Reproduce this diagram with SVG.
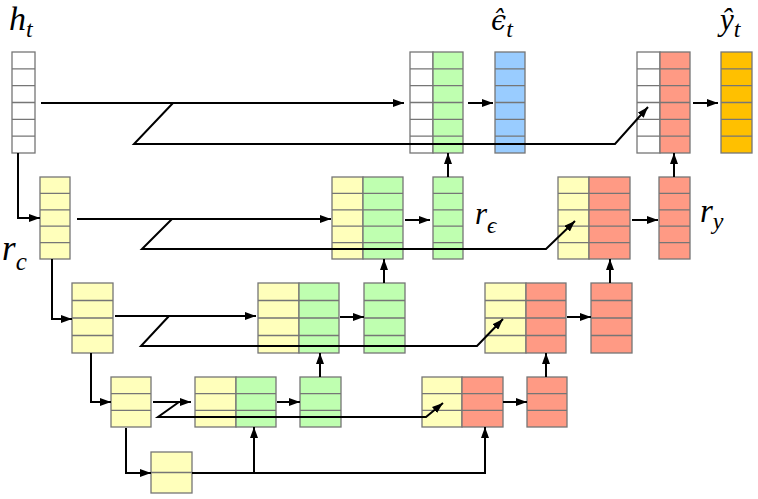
<svg xmlns="http://www.w3.org/2000/svg" width="758" height="499" viewBox="0 0 758 499">
<style>
.c{stroke:#767676;stroke-width:1.3}
.l{stroke:#767676;stroke-width:1.3;fill:none}
.w{fill:#ffffff}
.y{fill:#ffffbb}
.g{fill:#bfffb0}
.b{fill:#99ccff}
.r{fill:#ff9a84}
.o{fill:#ffc000}
.k{stroke:#000;stroke-width:2;fill:none;marker-end:url(#a)}
.m{font-family:"Liberation Serif","DejaVu Serif",serif;font-style:italic;fill:#000}
.d{font-family:"DejaVu Serif",serif;font-style:italic;fill:#000}
</style>
<defs>
<marker id="a" markerUnits="userSpaceOnUse" markerWidth="12" markerHeight="8" refX="11" refY="4" orient="auto">
<path d="M0,0 L11,4 L0,8 z" fill="#000"/>
</marker>
</defs>

<g id="labels">
<text class="m" x="9" y="30" font-size="34">h<tspan font-size="24" dy="7">t</tspan></text>
<text class="d" x="491" y="30" font-size="27">ϵ̂<tspan class="m" font-size="24" dy="7">t</tspan></text>
<text class="m" x="720" y="30" font-size="31">ŷ<tspan font-size="24" dy="7">t</tspan></text>
<text class="m" x="2" y="260" font-size="35">r<tspan font-size="25" dy="10">c</tspan></text>
<text class="m" x="475" y="224" font-size="31">r<tspan font-size="23" dy="9">ϵ</tspan></text>
<text class="m" x="700" y="222" font-size="33">r<tspan font-size="24" dy="7">y</tspan></text>
</g>

<g id="h_t">
<rect class="c w" x="12" y="52" width="23" height="101"/>
<path class="l" d="M12,68.8H35M12,85.7H35M12,102.5H35M12,119.3H35M12,136.2H35"/>
</g>
<g id="top_eps_concat">
<rect class="c w" x="410" y="52" width="23" height="101"/>
<rect class="c g" x="433" y="52" width="30" height="101"/>
<path class="l" d="M410,68.8H463M410,85.7H463M410,102.5H463M410,119.3H463M410,136.2H463"/>
</g>
<g id="eps_hat">
<rect class="c b" x="495" y="52" width="30" height="101"/>
<path class="l" d="M495,68.8H525M495,85.7H525M495,102.5H525M495,119.3H525M495,136.2H525"/>
</g>
<g id="top_y_concat">
<rect class="c w" x="637" y="52" width="23" height="101"/>
<rect class="c r" x="660" y="52" width="30" height="101"/>
<path class="l" d="M637,68.8H690M637,85.7H690M637,102.5H690M637,119.3H690M637,136.2H690"/>
</g>
<g id="y_hat">
<rect class="c o" x="721" y="52" width="31" height="101"/>
<path class="l" d="M721,68.8H752M721,85.7H752M721,102.5H752M721,119.3H752M721,136.2H752"/>
</g>

<g id="r_c">
<rect class="c y" x="40" y="177" width="30" height="82"/>
<path class="l" d="M40,193.4H70M40,209.8H70M40,226.2H70M40,242.6H70"/>
</g>
<g id="row2_eps_concat">
<rect class="c y" x="332" y="177" width="31" height="82"/>
<rect class="c g" x="363" y="177" width="40" height="82"/>
<path class="l" d="M332,193.4H403M332,209.8H403M332,226.2H403M332,242.6H403"/>
</g>
<g id="r_eps">
<rect class="c g" x="433" y="177" width="30" height="82"/>
<path class="l" d="M433,193.4H463M433,209.8H463M433,226.2H463M433,242.6H463"/>
</g>
<g id="row2_y_concat">
<rect class="c y" x="558" y="177" width="31" height="82"/>
<rect class="c r" x="589" y="177" width="41" height="82"/>
<path class="l" d="M558,193.4H630M558,209.8H630M558,226.2H630M558,242.6H630"/>
</g>
<g id="r_y">
<rect class="c r" x="659" y="177" width="31" height="82"/>
<path class="l" d="M659,193.4H690M659,209.8H690M659,226.2H690M659,242.6H690"/>
</g>

<g id="row3_c">
<rect class="c y" x="72" y="283" width="41" height="70"/>
<path class="l" d="M72,300.5H113M72,318H113M72,335.5H113"/>
</g>
<g id="row3_eps_concat">
<rect class="c y" x="258" y="283" width="41" height="70"/>
<rect class="c g" x="299" y="283" width="40" height="70"/>
<path class="l" d="M258,300.5H339M258,318H339M258,335.5H339"/>
</g>
<g id="row3_eps">
<rect class="c g" x="364" y="283" width="41" height="70"/>
<path class="l" d="M364,300.5H405M364,318H405M364,335.5H405"/>
</g>
<g id="row3_y_concat">
<rect class="c y" x="485" y="283" width="41" height="70"/>
<rect class="c r" x="526" y="283" width="40" height="70"/>
<path class="l" d="M485,300.5H566M485,318H566M485,335.5H566"/>
</g>
<g id="row3_y">
<rect class="c r" x="591" y="283" width="41" height="70"/>
<path class="l" d="M591,300.5H632M591,318H632M591,335.5H632"/>
</g>

<g id="row4_c">
<rect class="c y" x="111" y="377" width="40" height="50"/>
<path class="l" d="M111,393.7H151M111,410.3H151"/>
</g>
<g id="row4_eps_concat">
<rect class="c y" x="195" y="377" width="41" height="50"/>
<rect class="c g" x="236" y="377" width="40" height="50"/>
<path class="l" d="M195,393.7H276M195,410.3H276"/>
</g>
<g id="row4_eps">
<rect class="c g" x="300" y="377" width="41" height="50"/>
<path class="l" d="M300,393.7H341M300,410.3H341"/>
</g>
<g id="row4_y_concat">
<rect class="c y" x="422" y="377" width="40" height="50"/>
<rect class="c r" x="462" y="377" width="41" height="50"/>
<path class="l" d="M422,393.7H503M422,410.3H503"/>
</g>
<g id="row4_y">
<rect class="c r" x="527" y="377" width="40" height="50"/>
<path class="l" d="M527,393.7H567M527,410.3H567"/>
</g>

<g id="row5_c">
<rect class="c y" x="151" y="452" width="41" height="41"/>
<path class="l" d="M151,472.5H192"/>
</g>

<g id="connectors">
<path class="k" d="M41,103H404"/>
<path class="k" d="M173,103L134,144H615L648,107"/>
<path class="k" d="M468,103H493"/>
<path class="k" d="M693,103H718"/>
<path class="k" d="M448,177V153"/>
<path class="k" d="M674,177V153"/>
<path class="k" d="M18,153V218H40"/>

<path class="k" d="M77,219H331"/>
<path class="k" d="M172,219L142,249H546L575,221"/>
<path class="k" d="M405,220H430"/>
<path class="k" d="M632,220H658"/>
<path class="k" d="M384,283V259"/>
<path class="k" d="M610,283V259"/>
<path class="k" d="M52,259V319H72"/>

<path class="k" d="M115,316H256"/>
<path class="k" d="M169,316L141,346H477L503,319"/>
<path class="k" d="M340,317H364"/>
<path class="k" d="M567,317H591"/>
<path class="k" d="M320,377V353"/>
<path class="k" d="M546,377V353"/>
<path class="k" d="M91,353V402H111"/>

<path class="k" d="M153,402H191"/>
<path class="k" d="M179,402L158,417H426L443,403"/>
<path class="k" d="M277,402H300"/>
<path class="k" d="M503,402H527"/>
<path class="k" d="M126,428V473H151"/>

<path class="k" d="M192,473H485V427"/>
<path class="k" d="M254,473V427"/>
</g>
</svg>
